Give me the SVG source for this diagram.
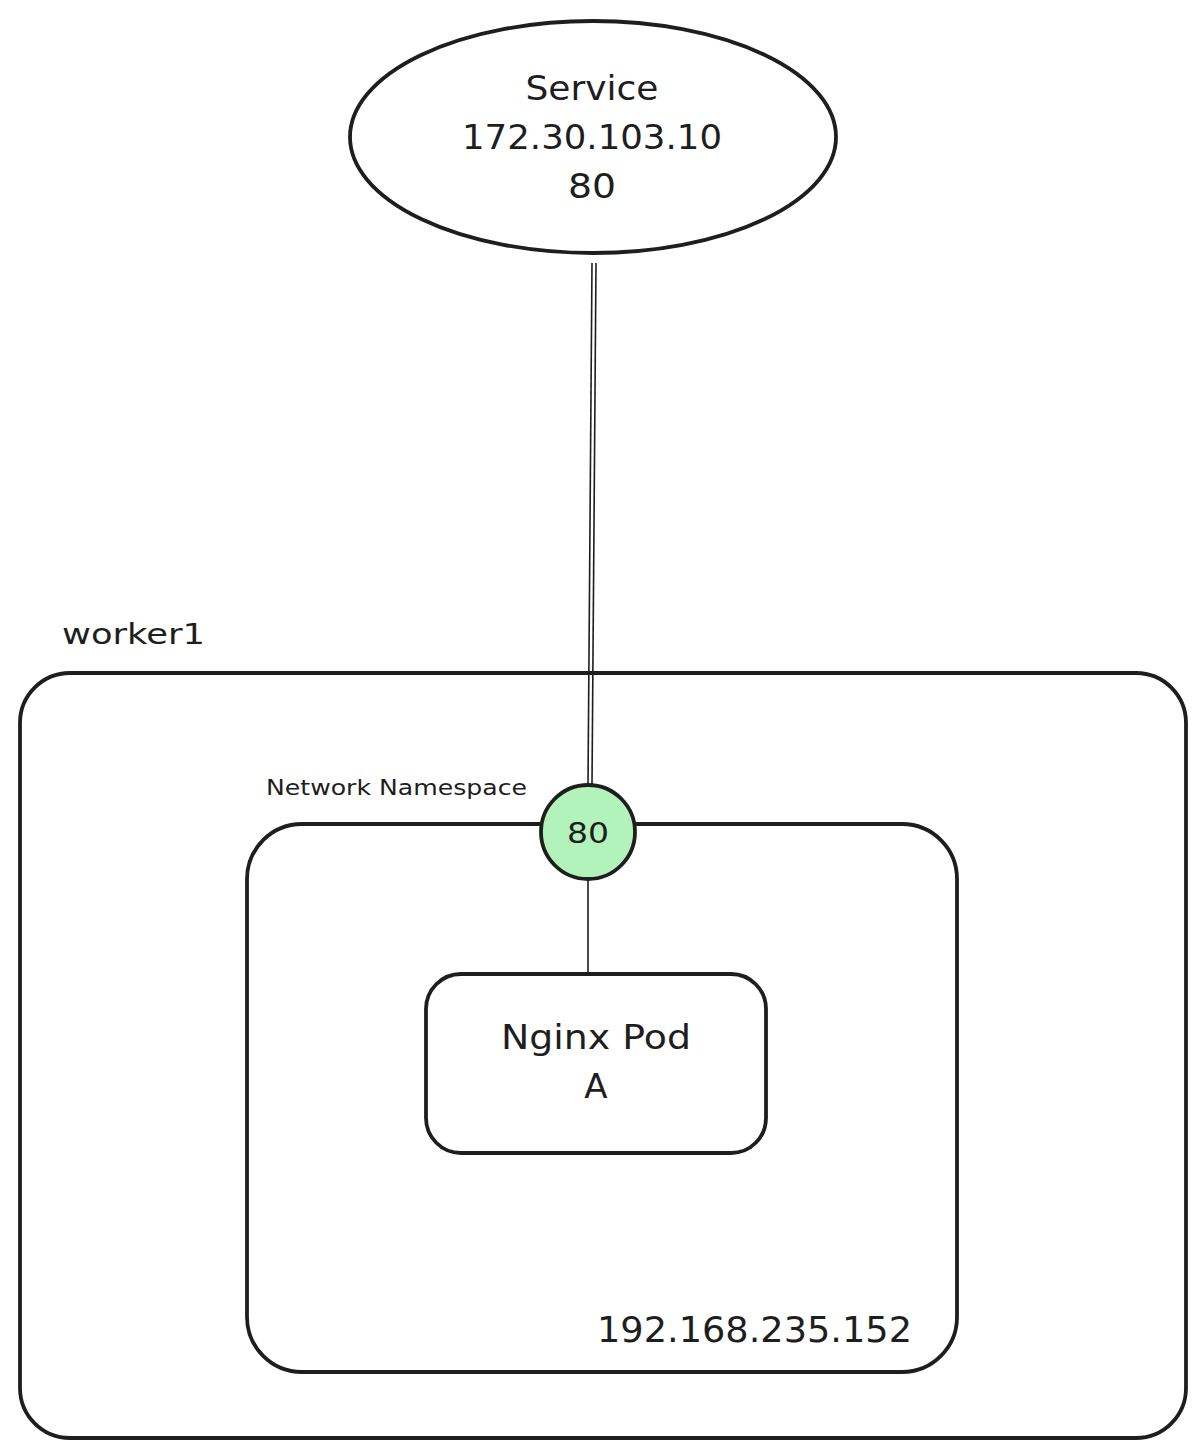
<svg xmlns="http://www.w3.org/2000/svg" width="1204" height="1455" viewBox="0 0 1204 1455">
<style>
.s{fill:none;stroke:#1e1e1e;stroke-width:3.8}
.t{font-family:"DejaVu Sans","Liberation Sans",sans-serif;fill:#1e1e1e}
.c{stroke:#1e1e1e;stroke-width:1.6;fill:none}
</style>
<rect width="1204" height="1455" fill="#ffffff"/>
<g id="worker1">
<rect class="s" x="20" y="673" width="1166" height="765" rx="50"/>
<text class="t" x="62" y="644" font-size="29" textLength="143" lengthAdjust="spacingAndGlyphs">worker1</text>
</g>
<g id="namespace">
<rect class="s" x="247" y="824" width="710" height="548" rx="55"/>
<text class="t" x="266" y="795" font-size="21" textLength="261" lengthAdjust="spacingAndGlyphs">Network Namespace</text>
<text class="t" x="597" y="1342" font-size="35" textLength="315" lengthAdjust="spacingAndGlyphs">192.168.235.152</text>
</g>
<g id="connectors">
<line class="c" x1="592" y1="263" x2="588" y2="785"/>
<line class="c" x1="596" y1="263" x2="592" y2="785"/>
<line class="c" x1="588" y1="880" x2="588" y2="973"/>
</g>
<g id="service">
<ellipse class="s" cx="593" cy="137" rx="243" ry="116" fill="#ffffff"/>
<text class="t" x="592" y="100" font-size="34" text-anchor="middle" textLength="133" lengthAdjust="spacingAndGlyphs">Service</text>
<text class="t" x="592" y="149" font-size="34" text-anchor="middle" textLength="260" lengthAdjust="spacingAndGlyphs">172.30.103.10</text>
<text class="t" x="592" y="198" font-size="34" text-anchor="middle" textLength="48" lengthAdjust="spacingAndGlyphs">80</text>
</g>
<g id="port">
<circle cx="588" cy="832" r="47" fill="#b2f2bb" stroke="#1e1e1e" stroke-width="3.8"/>
<text class="t" x="588" y="843" font-size="28" text-anchor="middle" textLength="42" lengthAdjust="spacingAndGlyphs">80</text>
</g>
<g id="pod">
<rect class="s" x="426" y="974" width="340" height="179" rx="35"/>
<text class="t" x="596" y="1049" font-size="34" text-anchor="middle" textLength="190" lengthAdjust="spacingAndGlyphs">Nginx Pod</text>
<text class="t" x="596" y="1098" font-size="34" text-anchor="middle">A</text>
</g>
</svg>
